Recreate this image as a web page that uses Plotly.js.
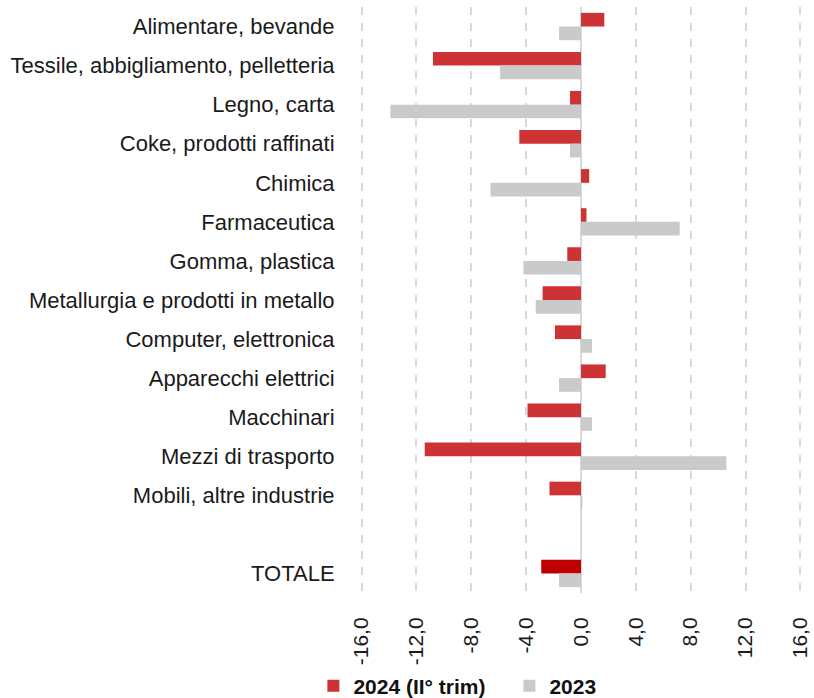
<!DOCTYPE html>
<html>
<head>
<meta charset="utf-8">
<script src="https://cdn.plot.ly/plotly-3.0.1.min.js"></script>
<style>html,body{margin:0;padding:0;background:#fff;overflow:hidden;}#chart{width:814px;height:698px;}</style>
</head>
<body>
<div id="chart"></div>
<script>
const categories = [
  "Alimentare, bevande",
  "Tessile, abbigliamento, pelletteria",
  "Legno, carta",
  "Coke, prodotti raffinati",
  "Chimica",
  "Farmaceutica",
  "Gomma, plastica",
  "Metallurgia e prodotti in metallo",
  "Computer, elettronica",
  "Apparecchi elettrici",
  "Macchinari",
  "Mezzi di trasporto",
  "Mobili, altre industrie",
  " ",
  "TOTALE"
];
const values2024 = [1.7, -10.8, -0.8, -4.5, 0.6, 0.4, -1.0, -2.8, -1.9, 1.8, -3.9, -11.4, -2.3, null, -2.9];
const values2023 = [-1.6, -5.9, -13.9, -0.8, -6.6, 7.2, -4.2, -3.3, 0.8, -1.6, 0.8, 10.6, 0.1, null, -1.6];
const xTicks = [-16, -12, -8, -4, 0, 4, 8, 12, 16];
const xTickText = ["-16,0", "-12,0", "-8,0", "-4,0", "0,0", "4,0", "8,0", "12,0", "16,0"];
const seriesNames = ["2024 (II° trim)", "2023"];

const red = "rgb(205,50,52)";
const darkRed = "rgb(192,0,0)";
const grey = "rgb(202,202,202)";
const redColors = categories.map(c => c === "TOTALE" ? darkRed : red);

const traces = [
  {type: "bar", orientation: "h", name: seriesNames[0], y: categories, x: values2024,
   marker: {color: redColors, line: {width: 0}}},
  {type: "bar", orientation: "h", name: seriesNames[1], y: categories, x: values2023,
   marker: {color: grey, line: {width: 0}}}
];

const layout = {
  width: 814, height: 698,
  margin: {l: 360, r: 12, t: 7, b: 105},
  paper_bgcolor: "#fff", plot_bgcolor: "#fff",
  barmode: "group", bargap: 0.3, bargroupgap: 0,
  font: {family: "Liberation Sans, Arial, sans-serif", color: "#1a1a1a", size: 21},
  xaxis: {
    range: [-16.12, 16.12], tickvals: xTicks, ticktext: xTickText, tickangle: -90,
    showgrid: true, gridcolor: "#d9d9d9", gridwidth: 2, griddash: "8px,8px",
    zeroline: true, zerolinecolor: "#d9d9d9", zerolinewidth: 2,
    showline: false, ticks: "outside", ticklen: 15, tickcolor: "rgba(0,0,0,0)",
    tickfont: {size: 21}, fixedrange: true, automargin: false, ticklabeloverflow: "allow"
  },
  yaxis: {
    type: "category", autorange: "reversed", showgrid: false, zeroline: false,
    ticks: "outside", ticklen: 20, tickcolor: "rgba(0,0,0,0)",
    tickfont: {size: 22}, fixedrange: true, automargin: false
  },
  showlegend: true,
  legend: {orientation: "h", xref: "container", yref: "container",
           x: 0.385, xanchor: "left", y: 0.017, yanchor: "middle",
           entrywidth: 151, entrywidthmode: "pixels",
           font: {size: 21, family: "Liberation Sans, Arial, sans-serif", weight: "bold", color: "#111"},
           traceorder: "normal", itemwidth: 30, bgcolor: "rgba(0,0,0,0)"}
};

Plotly.newPlot("chart", traces, layout, {displayModeBar: false, staticPlot: true});
</script>
</body>
</html>
